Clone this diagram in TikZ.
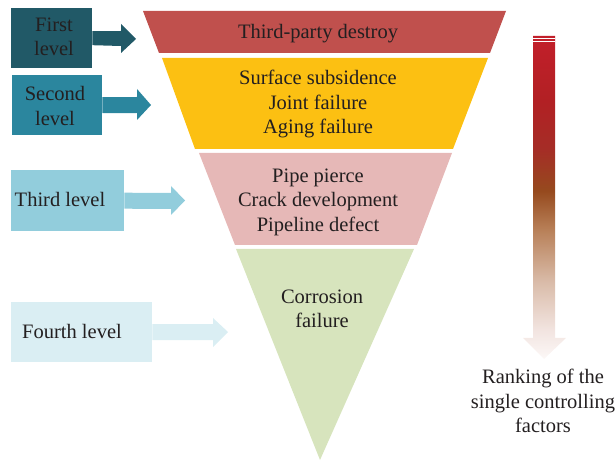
\documentclass[tikz,border=0pt]{standalone}
\usepackage{fontspec}
\setmainfont{Liberation Serif}
\usetikzlibrary{calc}
\definecolor{txt}{HTML}{231F20}
\definecolor{bandred}{HTML}{C0504D}
\definecolor{bandyel}{HTML}{FCC012}
\definecolor{bandpink}{HTML}{E6B8B7}
\definecolor{bandgreen}{HTML}{D7E4BD}
\definecolor{lvA}{HTML}{215967}
\definecolor{lvB}{HTML}{2B869E}
\definecolor{lvC}{HTML}{92CDDC}
\definecolor{lvD}{HTML}{DAEEF3}
\definecolor{rkA}{HTML}{C21F2A}
\definecolor{rkB}{HTML}{B22024}
\definecolor{rkC}{HTML}{A52D26}
\definecolor{rkD}{HTML}{964A1E}
\definecolor{rkE}{HTML}{B88058}
\definecolor{rkF}{HTML}{D9BBA8}
\definecolor{rkG}{HTML}{F2E4E0}
\definecolor{rkH}{HTML}{FCF8F7}
\pgfdeclareverticalshading{rankshade}{100bp}{color(0bp)=(rkH); color(25bp)=(rkH); color(29.5bp)=(rkG); color(37bp)=(rkF); color(45bp)=(rkE); color(51bp)=(rkD); color(57.5bp)=(rkC); color(65bp)=(rkB); color(75bp)=(rkA); color(100bp)=(rkA)}
\begin{document}
\begin{tikzpicture}[x=1pt,y=-1pt,
  lbl/.style={text=txt,font=\fontsize{20.5}{24.5}\selectfont,align=center,inner sep=0pt},
  lvbox/.style={draw=none,inner sep=0pt,anchor=north west}]
\useasboundingbox (0,0) rectangle (616,462);
% bands
\fill[bandred] (143,11) -- (506,11) -- (490,53) -- (159,53) -- cycle;
\fill[bandyel] (162,58) -- (488,58) -- (453,149) -- (195,149) -- cycle;
\fill[bandpink] (199,153) -- (452,153) -- (417,245) -- (235,245) -- cycle;
\fill[bandgreen] (236,249) -- (414,249) -- (320,460) -- cycle;
\node[lbl] (b1) at (318,34) {Third-party destroy};
\node[lbl] (b2) at (318,104) {Surface subsidence\\Joint failure\\Aging failure};
\node[lbl] (b3) at (318,202) {Pipe pierce\\Crack development\\Pipeline defect};
\node[lbl] (b4) at (322,309) {Corrosion\\failure};
% level boxes
\node[lvbox,fill=lvA,minimum width=81pt,minimum height=60pt] (l1) at (11,8) {};
\node[lvbox,fill=lvB,minimum width=90pt,minimum height=60pt] (l2) at (12,75) {};
\node[lvbox,fill=lvC,minimum width=113pt,minimum height=61pt] (l3) at (11,170) {};
\node[lvbox,fill=lvD,minimum width=141pt,minimum height=60pt] (l4) at (11,302) {};
% block arrows
\fill[lvA] ($(l1.east)+(0,-7)$) -- (121,31) -- (121,24) -- (136,39) -- (121,53) -- (121,46) -- ($(l1.east)+(0,7)$) -- cycle;
\fill[lvB] ($(l2.east)+(0,-8)$) -- (137,97) -- (137,89) -- (151,105) -- (137,120) -- (137,113) -- ($(l2.east)+(0,8)$) -- cycle;
\fill[lvC] ($(l3.east)+(0,-8)$) -- (171,193) -- (171,186) -- (185,200.5) -- (171,215) -- (171,209) -- ($(l3.east)+(0,8)$) -- cycle;
\fill[lvD] ($(l4.east)+(0,-8)$) -- (213,324) -- (213,318) -- (228,332) -- (213,347) -- (213,340) -- ($(l4.east)+(0,8)$) -- cycle;
\node[lbl] (t1) at (54,37) {First\\level};
\node[lbl] (t2) at (55,106) {Second\\level};
\node[lbl] (t3) at (60,199) {Third level};
\node[lbl] (t4) at (72,331) {Fourth level};
% ranking arrow
\shade[shading=rankshade]
  (533,36) -- (555,36) -- (555,338) -- (566,338) -- (544,359) -- (523,338) -- (533,338) -- cycle;
\draw[white,line width=0.8pt] (533,38.5) -- (555,38.5);
\draw[white,line width=0.8pt] (533,41.2) -- (555,41.2);
\node[lbl] (rk) at (543,401) {Ranking of the\\single controlling\\factors};
\end{tikzpicture}
\end{document}
